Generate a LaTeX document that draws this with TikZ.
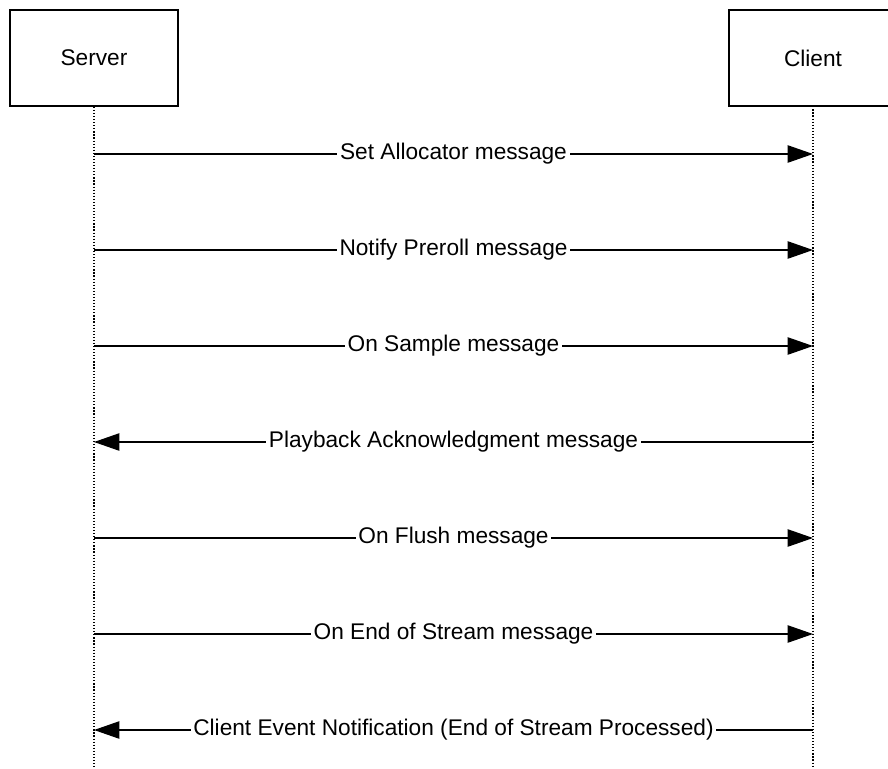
\documentclass[tikz,border=0pt]{standalone}
\usepackage{fontspec}
\setmainfont{Liberation Sans}
\usetikzlibrary{arrows.meta}

\tikzset{
  actor/.style={minimum width=126pt,minimum height=72pt,inner sep=0pt},
  boxline/.style={line width=1.2pt},
  life/.style={line width=1.1pt,dash pattern=on 0.9pt off 1.4pt},
  msg/.style={line width=0.9pt,-{Triangle[length=19pt,width=13pt]}},
  lbl/.style={fill=white,inner xsep=2pt,inner ysep=1pt}
}

\begin{document}
\begin{tikzpicture}[x=0.75pt,y=-0.75pt,font=\fontsize{17}{20}\selectfont]
      \useasboundingbox[fill=white] (0,0) rectangle (888,768);

      \node[actor,draw,boxline] (srv) at (94,58) {Server};
      \node[actor] (cli) at (813,58) {Client};

      % the client box runs past the right edge of the page
      \coordinate (edge) at (888,0);
      \draw[boxline] (cli.north -| edge) -- (cli.north west) -- (cli.south west) -- (cli.south -| edge);

      \coordinate (srvend) at (94,768);
      \coordinate (cliend) at (813,768);
      \draw[life] (srv) -- (srvend);
      \draw[life] (cli) -- (cliend);

      \foreach \i/\y in {1/154,2/250,3/346,4/442,5/538,6/634,7/730} {
        \coordinate (s\i) at (94,\y);
        \coordinate (c\i) at (813,\y);
      }

      \draw[msg] (s1) -- node[lbl] {Set Allocator message} (c1);
      \draw[msg] (s2) -- node[lbl] {Notify Preroll message} (c2);
      \draw[msg] (s3) -- node[lbl] {On Sample message} (c3);
      \draw[msg] (c4) -- node[lbl] {Playback Acknowledgment message} (s4);
      \draw[msg] (s5) -- node[lbl] {On Flush message} (c5);
      \draw[msg] (s6) -- node[lbl] {On End of Stream message} (c6);
      \draw[msg] (c7) -- node[lbl] {Client Event Notification (End of Stream Processed)} (s7);
    \end{tikzpicture}
\end{document}
